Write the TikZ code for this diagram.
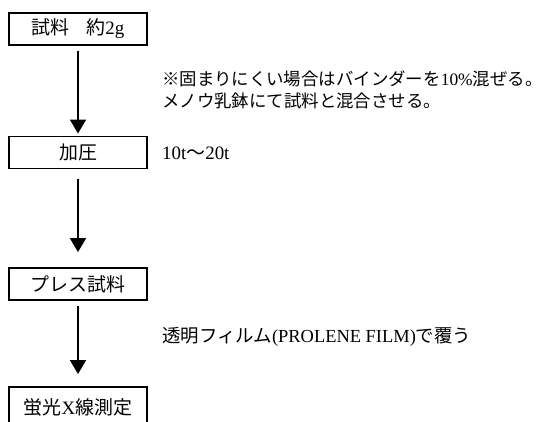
\documentclass[tikz,border=0pt]{standalone}
\usepackage{fontspec}
\setmainfont{Liberation Serif}
\newfontfamily\jp{Noto Sans CJK JP}
\usetikzlibrary{arrows.meta}

\begin{document}
\begin{tikzpicture}[x=1bp, y=-1bp,
        stepbox/.style={draw, line width=1.9bp, minimum width=138bp, minimum height=32bp,
            inner sep=0pt, font=\fontsize{19}{21}\selectfont},
        flow/.style={line width=1.8bp, -{Triangle[width=16bp, length=14bp]}},
        remark/.style={anchor=west, align=left, inner sep=0pt, font=\fontsize{17.5}{22}\selectfont}]
        \useasboundingbox (0, 0) rectangle (552, 421);
        \clip (0, 0) rectangle (552, 421);

        \node[stepbox] (sample) at (78, 29) {{\jp 試料}\hspace{0.9em}{\jp 約}2g};
        \node[stepbox] (press) at (78, 152.5) {\jp 加圧};
        \node[stepbox] (pellet) at (78, 284) {\jp プレス試料};
        \node[stepbox, minimum height=42bp] (xrf) at (78, 408) {\raisebox{3bp}{{\jp 蛍光}X{\jp 線測定}}};

        \draw[flow, shorten <=5bp, shorten >=2bp] (sample) to (press);
        \draw[flow, shorten <=10bp, shorten >=15bp] (press) to (pellet);
        \draw[flow, shorten <=5bp, shorten >=12bp] (pellet) to (xrf);

        \node[remark] (mixnote) at (162, 90) {{\jp ※固まりにくい場合はバインダーを}10\%{\jp 混ぜる。}\\{\jp メノウ乳鉢にて試料と混合させる。}};
        \node[remark, font=\fontsize{19}{22}\selectfont] (loadnote) at (162, 153) {10t{\jp ～}20t};
        \node[remark, font=\fontsize{18.5}{22}\selectfont] (filmnote) at (162, 337) {{\jp 透明フィルム}(PROLENE FILM){\jp で覆う}};
    \end{tikzpicture}
\end{document}
